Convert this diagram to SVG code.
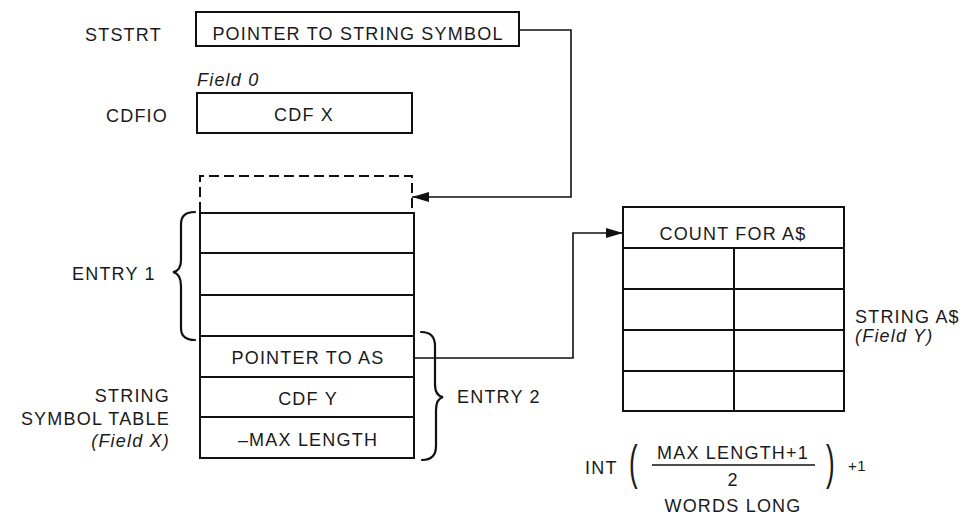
<svg xmlns="http://www.w3.org/2000/svg" width="980" height="516" viewBox="0 0 980 516">
<style>
text{font-family:"Liberation Sans",Arial,sans-serif;font-size:18px;letter-spacing:1.2px;fill:#1a1a1a}
.c{text-anchor:middle}
.r{text-anchor:end}
.i{font-style:italic}
.box{fill:none;stroke:#111;stroke-width:2}
.ln{fill:none;stroke:#111;stroke-width:1.6}
.dash{fill:none;stroke:#111;stroke-width:2;stroke-dasharray:10 5}
.br{fill:none;stroke:#111;stroke-width:2.2;stroke-linecap:round}
.par{font-size:20px;letter-spacing:0}
</style>
<defs>
<marker id="ah" viewBox="0 0 17 10" refX="17" refY="5" markerWidth="17" markerHeight="10" markerUnits="userSpaceOnUse" orient="auto">
<path d="M0,0 L17,5 L0,10 Z" fill="#111"/>
</marker>
</defs>

<g id="ststrt">
<text x="85" y="41">STSTRT</text>
<rect class="box" x="196" y="12" width="323" height="34"/>
<text class="c" x="358" y="40">POINTER TO STRING SYMBOL</text>
</g>

<g id="cdfio">
<text class="i" x="197" y="86">Field 0</text>
<text x="106" y="122">CDFIO</text>
<rect class="box" x="197" y="93" width="215" height="40"/>
<text class="c" x="304" y="121">CDF X</text>
</g>

<g id="symtable">
<path class="dash" d="M200,212 V176 H412 V212"/>
<rect class="box" x="200" y="213" width="214" height="245"/>
<line class="box" x1="200" y1="253" x2="414" y2="253"/>
<line class="box" x1="200" y1="295" x2="414" y2="295"/>
<line class="box" x1="200" y1="336" x2="414" y2="336"/>
<line class="box" x1="200" y1="377" x2="414" y2="377"/>
<line class="box" x1="200" y1="417" x2="414" y2="417"/>
<text class="c" x="308" y="364">POINTER TO AS</text>
<text class="c" x="308" y="405">CDF Y</text>
<text class="c" x="308" y="446">–MAX LENGTH</text>
<text class="r" x="170" y="402">STRING</text>
<text class="r" x="170" y="425">SYMBOL TABLE</text>
<text class="r i" x="170" y="447">(Field X)</text>
</g>

<g id="entry1">
<path class="br" d="M195,212 Q181,212 181,224 V260 Q181,271 173,272 Q181,274 181,286 V328 Q181,340 195,340"/>
<text x="72" y="280">ENTRY 1</text>
</g>

<g id="entry2">
<path class="br" d="M421,332 Q435,332 435,346 V384 Q435,396 443,397 Q436,399 436,410 V446 Q436,460 422,460"/>
<text x="457" y="403">ENTRY 2</text>
</g>

<g id="string">
<rect class="box" x="623" y="207" width="221" height="204"/>
<line class="box" x1="623" y1="248" x2="844" y2="248"/>
<line class="box" x1="623" y1="289" x2="844" y2="289"/>
<line class="box" x1="623" y1="330" x2="844" y2="330"/>
<line class="box" x1="623" y1="371" x2="844" y2="371"/>
<line class="box" x1="734" y1="248" x2="734" y2="411"/>
<text class="c" x="733" y="240">COUNT FOR A$</text>
<text x="855" y="323">STRING A$</text>
<text class="i" x="855" y="342">(Field Y)</text>
</g>

<g id="formula">
<text x="585" y="474">INT</text>
<text class="par" transform="translate(629,479) scale(1.3,2.4)">(</text>
<text class="c" x="733" y="459">MAX LENGTH+1</text>
<line class="ln" x1="652" y1="465" x2="815" y2="465"/>
<text class="c" x="733" y="486">2</text>
<text class="par" transform="translate(826,479) scale(1.3,2.4)">)</text>
<text x="848" y="471" style="font-size:15px;letter-spacing:0.5px">+1</text>
<text class="c" x="733" y="512">WORDS LONG</text>
</g>

<g id="connectors">
<polyline class="ln" points="519,30 571,30 571,197 412,197" marker-end="url(#ah)"/>
<polyline class="ln" points="414,358 573,358 573,233 623,233" marker-end="url(#ah)"/>
</g>
</svg>
